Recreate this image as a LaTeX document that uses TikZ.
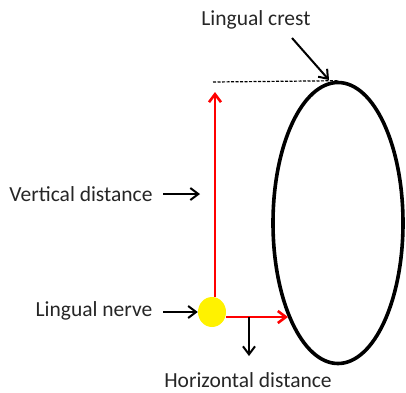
\documentclass[tikz,border=0pt]{standalone}
\usepackage{fontspec}
\setmainfont{Carlito}
\usetikzlibrary{positioning,arrows.meta,shapes.geometric}

\begin{document}
\begin{tikzpicture}[x=1pt,y=-1pt,>={Straight Barb[length=8pt,width=12pt]},
  lbl/.style={font=\fontsize{21.5}{25}\selectfont,text=black!85,inner sep=0pt},
  pointer/.style={->,line width=2pt},
  measure/.style={->,red,line width=2.6pt}]
\useasboundingbox (0,0) rectangle (406,392);
\node[draw,ellipse,line width=3.6pt,minimum width=130pt,minimum height=281pt] (ridge) at (338,223) {};
\node[ellipse,fill=yellow,minimum width=28pt,minimum height=30pt,inner sep=0pt] (nerve) at (212,312) {};
\coordinate (top) at (215,92);
\coordinate (hit) at (288,317);
\coordinate (crestend) at (213,82);
\coordinate (crestpt) at (329,80);
\node[lbl] (crest) at (256,20) {Lingual crest};
\node[lbl] (vert) at (81,194) {Vertical distance};
\node[lbl] (ling) at (94,311) {Lingual nerve};
\node[lbl,anchor=base] (horiz) at (248,387) {Horizontal distance};
\draw[dashed,line width=1.2pt,dash pattern=on 3pt off 1.5pt] (crestend) -- (ridge.north);
\draw[pointer] (292,38) -- (crestpt);
\draw[measure] (nerve.north -| top) -- (top);
\draw[measure] (nerve.east |- hit) -- (hit);
\draw[pointer] (163,194) -- (200,194);
\draw[pointer] (163,312) -- (nerve.west);
\draw[pointer] (249,317) -- (249,356);
\end{tikzpicture}
\end{document}
